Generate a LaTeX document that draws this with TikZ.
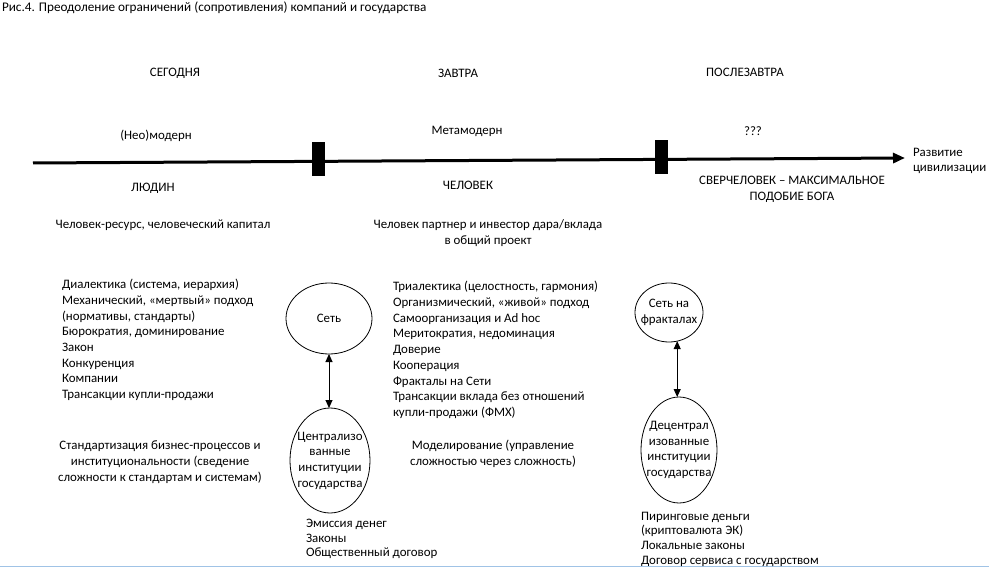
\documentclass[tikz,border=0pt]{standalone}
\usepackage{fontspec}
\setmainfont{Carlito}
\usetikzlibrary{shapes.geometric,arrows.meta}
\newcommand\mainfs{\fontsize{12.9}{15.7}\selectfont}
\newcommand\titlefs{\fontsize{13.2}{14}\selectfont}
\newcommand\tightfs{\fontsize{12.9}{14.7}\selectfont}
\definecolor{framebl}{RGB}{160,195,230}
\begin{document}
\begin{tikzpicture}[x=1pt,y=-1pt,
  every node/.style={font=\mainfs, inner sep=0pt, outer sep=0pt},
  txt/.style={align=center},
  lst/.style={align=left, anchor=west},
  oval/.style={draw, ellipse, line width=0.8pt},
  blk/.style={fill=black, minimum width=13pt, minimum height=34pt},
  dbl/.style={line width=1pt, {Triangle[length=8pt,width=7pt]}-{Triangle[length=8pt,width=7pt]}}
]
\useasboundingbox (0,0) rectangle (989,567);
\draw[framebl, line width=1pt] (0,566.5) -- (989,566.5);

\node[anchor=west, font=\titlefs] (title) at (2,8) {Рис.4. Преодоление ограничений (сопротивления) компаний и государства};

% headers
\node (h1) at (175,73) {СЕГОДНЯ};
\node (h2) at (458,73) {ЗАВТРА};
\node (h3) at (745,72) {ПОСЛЕЗАВТРА};

\node (m1) at (156,136) {(Нео)модерн};
\node (m2) at (467,131) {Метамодерн};
\node (m3) at (753,131) {???};

% timeline
\coordinate (tl) at (33,163);
\coordinate (tr) at (905,158);
\draw[line width=3pt, -{Triangle[length=12pt,width=10pt]}] (tl) -- (tr);
\node[blk] (b1) at (318.5,159) {};
\node[blk] (b2) at (661.5,157) {};
\node[lst] (dev) at (913,161) {Развитие\\цивилизации};

\node (p1) at (153,188) {ЛЮДИН};
\node (p2) at (468,185) {ЧЕЛОВЕК};
\node[txt] (p3) at (792,189) {СВЕРЧЕЛОВЕК – МАКСИМАЛЬНОЕ\\ПОДОБИЕ БОГА};

\node (r1) at (163,225) {Человек-ресурс, человеческий капитал};
\node[txt] (r2) at (488,233) {Человек партнер и инвестор дара/вклада\\в общий проект};

% lists
\node[lst] (l1) at (62,340) {Диалектика (система, иерархия)\\Механический, «мертвый» подход\\(нормативы, стандарты)\\Бюрократия, доминирование\\Закон\\Конкуренция\\Компании\\Трансакции купли-продажи};
\node[lst] (l2) at (393,350) {Триалектика (целостность, гармония)\\Организмический, «живой» подход\\Самоорганизация и Ad hoc\\Меритократия, недоминация\\Доверие\\Кооперация\\Фракталы на Сети\\Трансакции вклада без отношений\\купли-продажи (ФМХ)};

\node[txt] (s1) at (160,462) {Стандартизация бизнес-процессов и\\институциональности (сведение\\сложности к стандартам и системам)};
\node[txt] (s2) at (493,453.5) {Моделирование (управление\\сложностью через сложность)};

% ellipses
\node[oval, minimum width=86pt, minimum height=71pt,
  label={center:Сеть}] (e1) at (329,318.5) {};
\node[oval, minimum width=80pt, minimum height=105pt,
  label={[align=center]center:Централизо\\ванные\\институции\\государства}] (e2) at (330,460.5) {};
\node[oval, minimum width=68pt, minimum height=59pt,
  label={[align=center]center:Сеть на\\фракталах}] (e3) at (669,312.5) {};
\node[oval, minimum width=76pt, minimum height=106pt,
  label={[align=center]center:Децентрал\\изованные\\институции\\государства}] (e4) at (679,450) {};

\draw[dbl] (e1.south) -- (e1.south |- e2.north);
\draw[dbl] (e3.-74) -- (e3.-74 |- e4.north);

% bottom lists
\node[lst, font=\tightfs] (bl) at (306,539) {Эмиссия денег\\Законы\\Общественный договор};
\node[lst, font=\tightfs] (br) at (641,539) {Пиринговые деньги\\(криптовалюта ЭК)\\Локальные законы\\Договор сервиса с государством};
\end{tikzpicture}
\end{document}
